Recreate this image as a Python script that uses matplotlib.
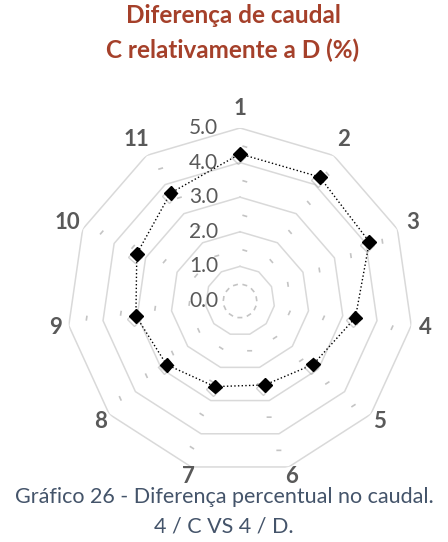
import numpy as np
import matplotlib.pyplot as plt
import matplotlib.patheffects as pe

plt.rcParams['font.family'] = ['Lato', 'DejaVu Sans']
plt.rcParams['lines.scale_dashes'] = False

categorias = ['1', '2', '3', '4', '5', '6', '7', '8', '9', '10', '11']
valores = [4.25, 4.26, 4.11, 3.37, 2.80, 2.53, 2.58, 2.81, 3.04, 3.28, 3.71]
aneis = [0.0, 1.0, 2.0, 3.0, 4.0, 5.0]
aneis_menores = [0.5, 1.5, 2.5, 3.5, 4.5]

titulo = ['Diferença de caudal', 'C relativamente a D (%)']
legenda = ['Gráfico 26 - Diferença percentual no caudal.', '4 / C VS 4 / D.']

dpi = 100
fig = plt.figure(figsize=(4.48, 5.42), dpi=dpi)
ax = fig.add_axes([0.1496, 0.1255, 0.7723, 0.6384], projection='polar')
ax.set_theta_zero_location('N')
ax.set_theta_direction(-1)
ax.set_ylim(0, 5)
ax.grid(False)
ax.set_xticks([])
ax.set_yticks([])
ax.spines['polar'].set_visible(False)
ax.patch.set_visible(False)

n = len(categorias)
ang = np.arange(n) * 2 * np.pi / n
ang_f = np.append(ang, ang[0])

# aneis principais (poligonos)
for r in aneis[1:]:
    ax.plot(ang_f, [r] * (n + 1), color='#d9d9d9', lw=1.1, zorder=1)

# aneis secundarios: traço curto centrado em cada vertice
px_unid = 173 / 5.0
for r in aneis_menores:
    lado = 2 * r * px_unid * np.sin(np.pi / n) * 72 / dpi
    d = 5 * 72 / dpi
    ax.plot(ang_f, [r] * (n + 1), color='#c4c4c4', lw=1.2, zorder=1,
            linestyle=(lado - d / 2, (d, lado - d)))

# rotulos do eixo radial
for r in aneis:
    ax.annotate('%.1f' % r, xy=(0, r), xytext=(-22, 0), textcoords='offset pixels',
                ha='right', va='center', fontsize=15, color='#595959', zorder=3)

# rotulos das categorias
for a, c in zip(ang, categorias):
    ax.text(a, 5.42 + 0.15 * np.cos(a), c, ha='center', va='center',
            fontsize=16, fontweight='bold', color='#595959', clip_on=False)

v_f = valores + valores[:1]
ax.plot(ang_f, v_f, color='black', lw=1.0, linestyle=':', zorder=4)
ax.plot(ang, valores, linestyle='none', marker='D', markersize=7, color='black', zorder=5,
        path_effects=[pe.SimpleLineShadow(offset=(-1.5, -2), shadow_color='#808080', alpha=0.35),
                      pe.Normal()])

# titulo e legenda, linha a linha
for y, t in zip([0.9705, 0.9077], titulo):
    fig.text(0.52, y, t, ha='center', va='center', fontsize=17.5, fontweight='bold',
             color='#a5402a')
for y, t in zip([0.083, 0.0277], legenda):
    fig.text(0.5, y, t, ha='center', va='center', fontsize=15.5, color='#44546a')

fig.savefig('out.png', dpi=dpi)
